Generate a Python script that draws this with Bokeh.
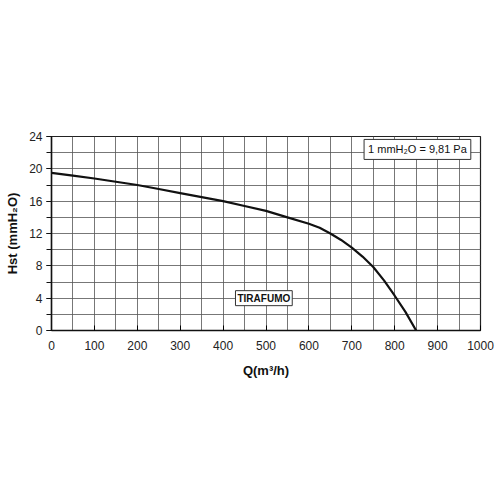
from bokeh.plotting import figure
from bokeh.models import Label, FixedTicker, Range1d
from bokeh.embed import file_html
from bokeh.resources import INLINE

flow = [0, 50, 100, 150, 200, 250, 300, 350, 400, 450, 500, 550, 600, 625, 650, 675, 700, 725, 750, 775, 800, 825, 850]
head = [19.5, 19.15, 18.8, 18.4, 18.0, 17.5, 17.0, 16.5, 16.0, 15.4, 14.8, 14.0, 13.2, 12.7, 12.0, 11.2, 10.25, 9.15, 7.85, 6.2, 4.3, 2.3, 0.0]
x_ticks = [0, 100, 200, 300, 400, 500, 600, 700, 800, 900, 1000]
y_ticks = [0, 4, 8, 12, 16, 20, 24]
x_grid = list(range(0, 1001, 50))
y_grid = list(range(0, 25, 2))

FONT = "Liberation Sans"

p = figure(width=500, height=500, output_backend="svg", toolbar_location=None,
           x_range=Range1d(0, 1000), y_range=Range1d(0, 24),
           min_border_left=51, min_border_right=20, min_border_top=136, min_border_bottom=170)
p.outline_line_color = "#222222"
p.outline_line_width = 1.2

p.xaxis.ticker = FixedTicker(ticks=x_ticks)
p.yaxis.ticker = FixedTicker(ticks=y_ticks, minor_ticks=y_grid)
p.xgrid.ticker = FixedTicker(ticks=x_grid)
p.ygrid.ticker = FixedTicker(ticks=y_grid)
for g in (p.xgrid, p.ygrid):
    g.grid_line_color = "#555555"
    g.grid_line_width = 1
    g.grid_line_alpha = 0.8

p.xaxis.axis_line_color = "#111111"
p.xaxis.axis_line_width = 1.5
p.xaxis.major_tick_in = 5
p.xaxis.major_tick_out = 0
p.xaxis.minor_tick_line_color = None
p.yaxis.axis_line_color = "#111111"
p.yaxis.axis_line_width = 1.5
p.yaxis.major_tick_in = 0
p.yaxis.major_tick_out = 5
p.yaxis.minor_tick_in = 0
p.yaxis.minor_tick_out = 5
p.yaxis.minor_tick_line_color = "#111111"

for ax in (p.xaxis, p.yaxis):
    ax.major_label_text_font = FONT
    ax.major_label_text_font_size = "12px"
    ax.major_label_text_color = "#222222"
    ax.axis_label_text_font = FONT
    ax.axis_label_text_font_size = "13px"
    ax.axis_label_text_font_style = "bold"
    ax.axis_label_text_color = "#111111"

p.xaxis.axis_label = "Q(m³/h)"
p.yaxis.axis_label = "Hst (mmH₂O)"
p.xaxis.major_label_standoff = 10
p.yaxis.major_label_standoff = 4
p.xaxis.axis_label_standoff = 10
p.yaxis.axis_label_standoff = 6

p.line(flow, head, line_color="#111111", line_width=2.2)

p.add_layout(Label(x=853, y=22.4, text="1 mmH₂O = 9,81 Pa", text_align="center", text_baseline="middle",
                   text_font=FONT, text_font_size="11px", text_color="#111111",
                   background_fill_color="white", border_line_color="#333333", padding=4))
p.add_layout(Label(x=495, y=4, text="TIRAFUMO", text_align="center", text_baseline="middle",
                   text_font=FONT, text_font_size="10px", text_font_style="bold", text_color="#111111",
                   background_fill_color="white", border_line_color="#333333", padding=2))

open("out.html", "w").write(file_html(p, INLINE))
